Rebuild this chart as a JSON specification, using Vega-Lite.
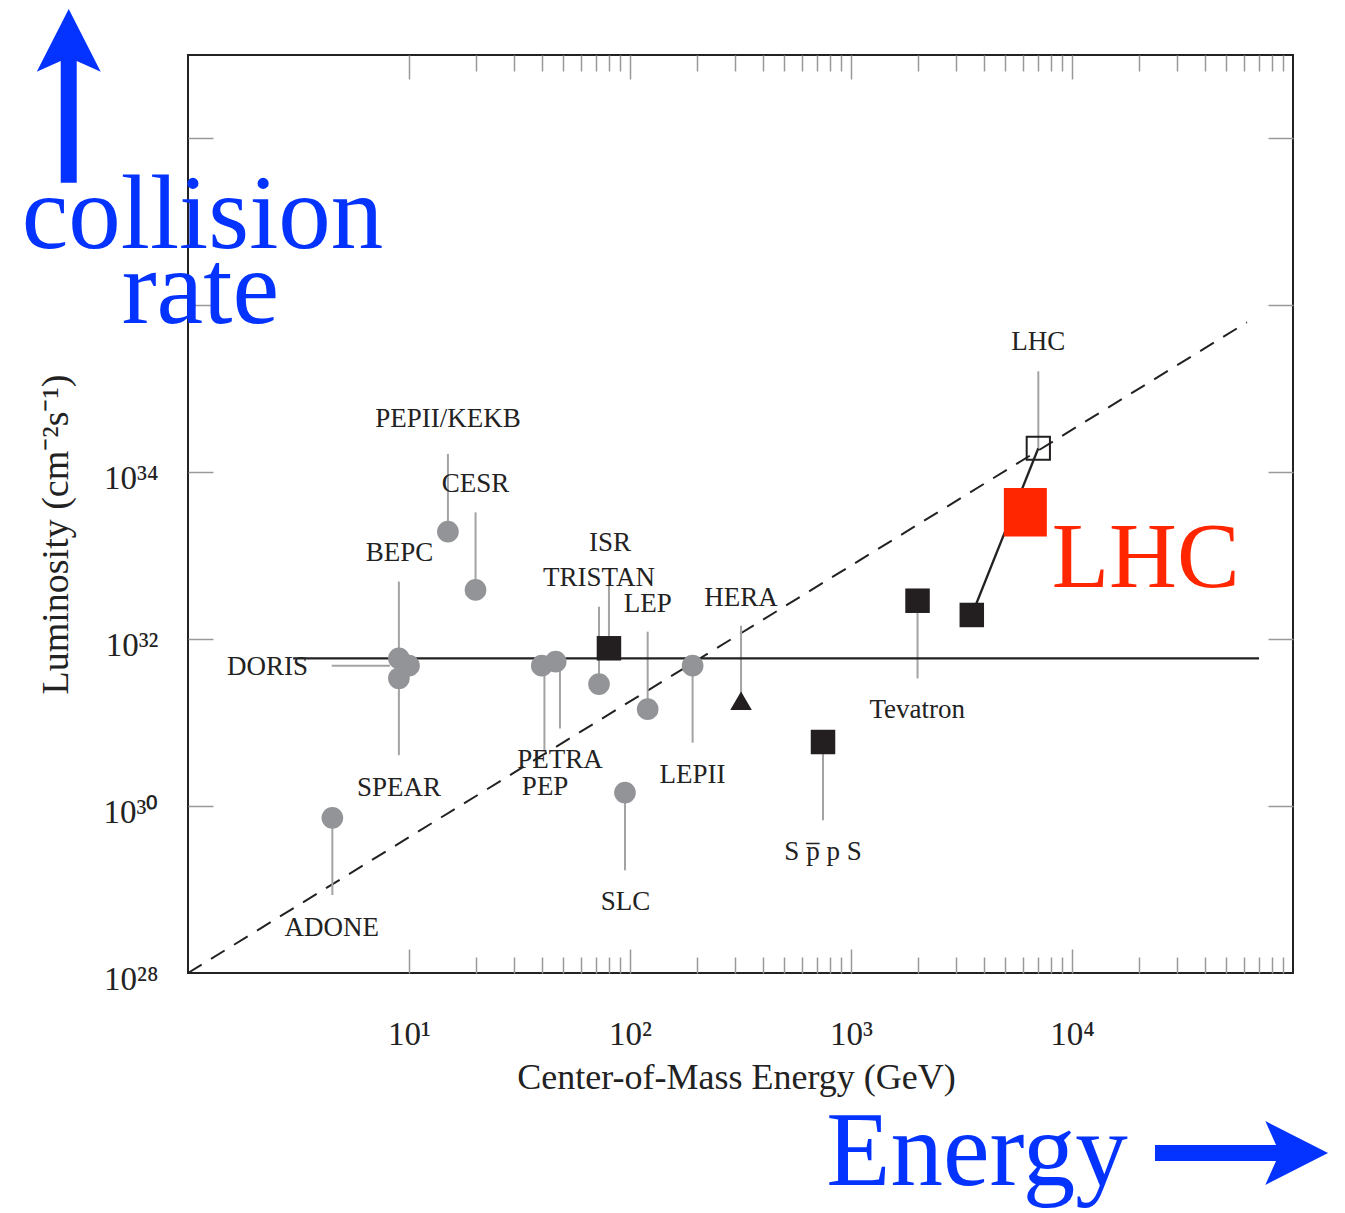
{
  "$schema": "https://vega.github.io/schema/vega-lite/v6.json",
  "width": 1105,
  "height": 918,
  "autosize": "none",
  "padding": {"left": 188, "top": 55, "right": 52, "bottom": 240},
  "background": "white",
  "config": {"view": {"stroke": "#222222", "strokeWidth": 2}, "font": "Liberation Serif"},
  "datasets": {
    "lines": [
      {"kind": "dash", "E": 1, "E2": 61900, "L": 1e28, "L2": 6.27e35},
      {"kind": "solid", "E": 2.99, "E2": 70200, "L": 5.9e31, "L2": 5.9e31},
      {"kind": "solid", "E": 3520, "E2": 7040, "L": 1.95e32, "L2": 1.94e34}
    ],
    "stems": [
      {"name": "ADONE", "E": 4.5, "E2": 4.5, "L": 7.24e29, "L2": 8.61e28},
      {"name": "BEPC", "E": 9.0, "E2": 9.0, "L": 4.9e32, "L2": 5.9e31},
      {"name": "SPEAR", "E": 9.0, "E2": 9.0, "L": 3.4e31, "L2": 4.07e30},
      {"name": "DORIS", "E": 4.47, "E2": 8.2, "L": 4.82e31, "L2": 4.82e31},
      {"name": "PEPII/KEKB", "E": 15.0, "E2": 15.0, "L": 1.66e34, "L2": 1.94e33},
      {"name": "CESR", "E": 20.0, "E2": 20.0, "L": 3.31e33, "L2": 3.89e32},
      {"name": "PETRA", "E": 41.0, "E2": 41.0, "L": 4.82e31, "L2": 4.68e30},
      {"name": "PEP", "E": 48.2, "E2": 48.2, "L": 5.38e31, "L2": 8.51e30},
      {"name": "TRISTAN", "E": 72.4, "E2": 72.4, "L": 2.45e32, "L2": 2.9e31},
      {"name": "ISR", "E": 80.3, "E2": 80.3, "L": 4.47e32, "L2": 7.78e31},
      {"name": "LEP", "E": 120.2, "E2": 120.2, "L": 1.23e32, "L2": 1.45e31},
      {"name": "LEPII", "E": 192, "E2": 192, "L": 4.82e31, "L2": 5.75e30},
      {"name": "HERA", "E": 318, "E2": 318, "L": 1.45e32, "L2": 1.83e31},
      {"name": "SLC", "E": 94.9, "E2": 94.9, "L": 1.45e30, "L2": 1.7e29},
      {"name": "SppS", "E": 747, "E2": 747, "L": 5.86e30, "L2": 6.76e29},
      {"name": "Tevatron", "E": 2000, "E2": 2000, "L": 2.89e32, "L2": 3.39e31},
      {"name": "LHC", "E": 7040, "E2": 7040, "L": 1.62e35, "L2": 1.94e34}
    ],
    "points": [
      {"name": "ADONE", "kind": "circle", "E": 4.5, "L": 7.24e29},
      {"name": "SPEAR", "kind": "circle", "E": 9.0, "L": 3.4e31},
      {"name": "BEPC", "kind": "circle", "E": 9.0, "L": 5.9e31},
      {"name": "DORIS", "kind": "circle", "E": 10.0, "L": 4.82e31},
      {"name": "PEPII/KEKB", "kind": "circle", "E": 15.0, "L": 1.94e33},
      {"name": "CESR", "kind": "circle", "E": 20.0, "L": 3.89e32},
      {"name": "PETRA", "kind": "circle", "E": 39.9, "L": 4.82e31},
      {"name": "PEP", "kind": "circle", "E": 46.1, "L": 5.38e31},
      {"name": "TRISTAN", "kind": "circle", "E": 72.4, "L": 2.9e31},
      {"name": "SLC", "kind": "circle", "E": 94.9, "L": 1.45e30},
      {"name": "LEP", "kind": "circle", "E": 120.2, "L": 1.45e31},
      {"name": "LEPII", "kind": "circle", "E": 192, "L": 4.82e31},
      {"name": "ISR", "kind": "square", "E": 80.3, "L": 7.78e31},
      {"name": "SppS", "kind": "square", "E": 747, "L": 5.86e30},
      {"name": "Tevatron", "kind": "square", "E": 2000, "L": 2.89e32},
      {"name": "Tevatron", "kind": "square", "E": 3520, "L": 1.95e32},
      {"name": "LHC", "kind": "open", "E": 7040, "L": 1.94e34},
      {"name": "HERA", "kind": "tri", "E": 318, "L": 1.83e31},
      {"name": "LHC", "kind": "red", "E": 6150, "L": 3.32e33}
    ],
    "labels": [
      {"t": "ADONE", "E": 4.47, "L": 2.77e28},
      {"t": "SPEAR", "E": 9.01, "L": 1.32e30},
      {"t": "DORIS", "E": 2.29, "L": 3.72e31},
      {"t": "BEPC", "E": 9.06, "L": 8.65e32},
      {"t": "PEPII/KEKB", "E": 15.0, "L": 3.49e34},
      {"t": "CESR", "E": 20.0, "L": 5.81e33},
      {"t": "ISR", "E": 81.2, "L": 1.14e33},
      {"t": "TRISTAN", "E": 72.4, "L": 4.35e32},
      {"t": "LEP", "E": 120.2, "L": 2.12e32},
      {"t": "HERA", "E": 318, "L": 2.5e32},
      {"t": "PETRA", "E": 48.2, "L": 2.86e30},
      {"t": "PEP", "E": 41.3, "L": 1.36e30},
      {"t": "LEPII", "E": 191.8, "L": 1.89e30},
      {"t": "SLC", "E": 95.4, "L": 5.69e28},
      {"t": "S p̅ p S", "E": 747, "L": 2.26e29},
      {"t": "Tevatron", "E": 1995, "L": 1.14e31},
      {"t": "LHC", "E": 7040, "L": 2.92e35}
    ],
    "notes": [
      {"t": "collision", "E": 1.163, "L": 4.83e36},
      {"t": "rate", "E": 1.137, "L": 6.21e35},
      {"t": "Energy", "E": 3717, "L": 2.88e25}
    ],
    "rednote": [
      {"t": "LHC", "E": 8090, "L": 4.26e32}
    ],
    "shafts": [
      {"E": 0.2886, "E2": 0.2886, "L": 2.95e37, "L2": 1e39},
      {"E": 23740, "E2": 92000, "L": 6.97e25, "L2": 6.97e25}
    ],
    "heads": [
      {"E": 0.2886, "L": 1.5e39, "shape": "M0,-0.98L1,0.98L0.25,0.645L-0.25,0.645L-1,0.98Z"},
      {"E": 103900, "L": 6.97e25, "shape": "M0.98,0L-0.98,1L-0.645,0.25L-0.645,-0.25L-0.98,-1Z"}
    ]
  },
  "resolve": {"axis": {"x": "independent", "y": "independent"}},
  "layer": [
    {
      "data": {"name": "lines"},
      "transform": [{"filter": "datum.kind == 'dash'"}],
      "mark": {"type": "rule", "color": "#222222", "strokeWidth": 2, "strokeDash": [16, 11]},
      "encoding": {
        "x": {"field": "E", "type": "quantitative", "scale": {"type": "log", "domain": [1, 100000], "nice": false},
          "axis": {"orient": "bottom", "values": [10, 100, 1000, 10000], "ticks": false, "domain": false, "grid": false,
            "labelExpr": "'10' + substring('¹²³⁴', round(log(datum.value)/LN10)-1, round(log(datum.value)/LN10))",
            "labelFont": "Liberation Serif", "labelFontSize": 33, "labelColor": "#222222", "labelBaseline": "alphabetic", "labelPadding": 71,
            "title": "Center-of-Mass Energy (GeV)", "titleFont": "Liberation Serif", "titleFontSize": 36, "titleFontWeight": "normal", "titleColor": "#222222",
            "titleBaseline": "alphabetic", "titleX": 548, "titleY": 115}},
        "x2": {"field": "E2"},
        "y": {"field": "L", "type": "quantitative", "scale": {"type": "log", "domain": [1e28, 1e39], "nice": false},
          "axis": {"orient": "left", "values": [1e28, 1e30, 1e32, 1e34], "ticks": false, "domain": false, "grid": false,
            "labelExpr": "'10' + (round(log(datum.value)/LN10) == 28 ? '²⁸' : round(log(datum.value)/LN10) == 30 ? '³⁰' : round(log(datum.value)/LN10) == 32 ? '³²' : '³⁴')",
            "labelFont": "Liberation Serif", "labelFontSize": 33, "labelColor": "#222222", "labelBaseline": "alphabetic", "labelOffset": 16, "labelPadding": 30,
            "title": "Luminosity (cm⁻²s⁻¹)", "titleFont": "Liberation Serif", "titleFontSize": 38, "titleFontWeight": "normal", "titleColor": "#222222",
            "titleAngle": -90, "titleBaseline": "alphabetic", "titleX": -121, "titleY": 479}},
        "y2": {"field": "L2"}
      }
    },
    {
      "data": {"name": "stems"},
      "mark": {"type": "rule", "color": "#a3a3a3", "strokeWidth": 2},
      "encoding": {
        "x": {"field": "E", "type": "quantitative", "scale": {"type": "log", "domain": [1, 100000], "nice": false},
          "axis": {"orient": "bottom", "values": [10, 100, 1000, 10000], "labels": false, "domain": false, "grid": false, "tickSize": -24, "tickColor": "#999999", "tickWidth": 1.5, "title": null}},
        "x2": {"field": "E2"},
        "y": {"field": "L", "type": "quantitative", "scale": {"type": "log", "domain": [1e28, 1e39], "nice": false},
          "axis": {"orient": "left", "values": [1e30, 1e32, 1e34, 1e36, 1e38], "labels": false, "domain": false, "grid": false, "tickSize": -25, "tickColor": "#999999", "tickWidth": 1.5, "title": null}},
        "y2": {"field": "L2"}
      }
    },
    {
      "data": {"name": "lines"},
      "transform": [{"filter": "datum.kind == 'solid'"}],
      "mark": {"type": "rule", "color": "#222222", "strokeWidth": 2.3},
      "encoding": {
        "x": {"field": "E", "type": "quantitative", "scale": {"type": "log", "domain": [1, 100000], "nice": false},
          "axis": {"orient": "bottom", "values": [20, 30, 40, 50, 60, 70, 80, 90, 200, 300, 400, 500, 600, 700, 800, 900, 2000, 3000, 4000, 5000, 6000, 7000, 8000, 9000, 20000, 30000, 40000, 50000, 60000, 70000, 80000, 90000], "labels": false, "domain": false, "grid": false, "tickSize": -16, "tickColor": "#999999", "tickWidth": 1.5, "title": null}},
        "x2": {"field": "E2"},
        "y": {"field": "L", "type": "quantitative", "scale": {"type": "log", "domain": [1e28, 1e39], "nice": false},
          "axis": {"orient": "right", "values": [1e30, 1e32, 1e34, 1e36, 1e38], "labels": false, "domain": false, "grid": false, "tickSize": -25, "tickColor": "#999999", "tickWidth": 1.5, "title": null}},
        "y2": {"field": "L2"}
      }
    },
    {
      "data": {"name": "points"},
      "transform": [{"filter": "datum.kind == 'circle'"}],
      "mark": {"type": "point", "shape": "circle", "filled": true, "opacity": 1, "color": "#929497", "size": 470},
      "encoding": {
        "x": {"field": "E", "type": "quantitative", "scale": {"type": "log", "domain": [1, 100000], "nice": false},
          "axis": {"orient": "top", "values": [10, 100, 1000, 10000], "labels": false, "domain": false, "grid": false, "tickSize": -24, "tickColor": "#999999", "tickWidth": 1.5, "title": null}},
        "y": {"field": "L", "type": "quantitative", "scale": {"type": "log", "domain": [1e28, 1e39], "nice": false}, "axis": null}
      }
    },
    {
      "data": {"name": "points"},
      "transform": [{"filter": "datum.kind == 'square'"}],
      "mark": {"type": "point", "shape": "square", "filled": true, "opacity": 1, "color": "#231f20", "size": 600},
      "encoding": {
        "x": {"field": "E", "type": "quantitative", "scale": {"type": "log", "domain": [1, 100000], "nice": false},
          "axis": {"orient": "top", "values": [20, 30, 40, 50, 60, 70, 80, 90, 200, 300, 400, 500, 600, 700, 800, 900, 2000, 3000, 4000, 5000, 6000, 7000, 8000, 9000, 20000, 30000, 40000, 50000, 60000, 70000, 80000, 90000], "labels": false, "domain": false, "grid": false, "tickSize": -16, "tickColor": "#999999", "tickWidth": 1.5, "title": null}},
        "y": {"field": "L", "type": "quantitative", "scale": {"type": "log", "domain": [1e28, 1e39], "nice": false}, "axis": null}
      }
    },
    {
      "data": {"name": "points"},
      "transform": [{"filter": "datum.kind == 'open'"}],
      "mark": {"type": "point", "shape": "square", "filled": false, "opacity": 1, "color": "#231f20", "strokeWidth": 2, "size": 540},
      "encoding": {
        "x": {"field": "E", "type": "quantitative", "scale": {"type": "log", "domain": [1, 100000], "nice": false}, "axis": null},
        "y": {"field": "L", "type": "quantitative", "scale": {"type": "log", "domain": [1e28, 1e39], "nice": false}, "axis": null}
      }
    },
    {
      "data": {"name": "points"},
      "transform": [{"filter": "datum.kind == 'tri'"}],
      "mark": {"type": "point", "shape": "M0,-0.92L1.08,0.92L-1.08,0.92Z", "filled": true, "opacity": 1, "color": "#231f20", "size": 400},
      "encoding": {
        "x": {"field": "E", "type": "quantitative", "scale": {"type": "log", "domain": [1, 100000], "nice": false}, "axis": null},
        "y": {"field": "L", "type": "quantitative", "scale": {"type": "log", "domain": [1e28, 1e39], "nice": false}, "axis": null}
      }
    },
    {
      "data": {"name": "points"},
      "transform": [{"filter": "datum.kind == 'red'"}],
      "mark": {"type": "point", "shape": "M-0.89,-1L0.89,-1L0.89,1L-0.89,1Z", "filled": true, "opacity": 1, "color": "#ff2600", "size": 2333},
      "encoding": {
        "x": {"field": "E", "type": "quantitative", "scale": {"type": "log", "domain": [1, 100000], "nice": false}, "axis": null},
        "y": {"field": "L", "type": "quantitative", "scale": {"type": "log", "domain": [1e28, 1e39], "nice": false}, "axis": null}
      }
    },
    {
      "data": {"name": "labels"},
      "mark": {"type": "text", "font": "Liberation Serif", "fontSize": 27, "color": "#222222", "align": "center", "baseline": "alphabetic"},
      "encoding": {
        "x": {"field": "E", "type": "quantitative", "scale": {"type": "log", "domain": [1, 100000], "nice": false}, "axis": null},
        "y": {"field": "L", "type": "quantitative", "scale": {"type": "log", "domain": [1e28, 1e39], "nice": false}, "axis": null},
        "text": {"field": "t"}
      }
    },
    {
      "data": {"name": "notes"},
      "mark": {"type": "text", "font": "Liberation Serif", "fontSize": 105, "color": "#0433ff", "align": "center", "baseline": "alphabetic"},
      "encoding": {
        "x": {"field": "E", "type": "quantitative", "scale": {"type": "log", "domain": [1, 100000], "nice": false}, "axis": null},
        "y": {"field": "L", "type": "quantitative", "scale": {"type": "log", "domain": [1e28, 1e39], "nice": false}, "axis": null},
        "text": {"field": "t"}
      }
    },
    {
      "data": {"name": "rednote"},
      "mark": {"type": "text", "font": "Liberation Serif", "fontSize": 94, "color": "#ff2600", "align": "left", "baseline": "alphabetic"},
      "encoding": {
        "x": {"field": "E", "type": "quantitative", "scale": {"type": "log", "domain": [1, 100000], "nice": false}, "axis": null},
        "y": {"field": "L", "type": "quantitative", "scale": {"type": "log", "domain": [1e28, 1e39], "nice": false}, "axis": null},
        "text": {"field": "t"}
      }
    },
    {
      "data": {"name": "shafts"},
      "mark": {"type": "rule", "color": "#0433ff", "strokeWidth": 16, "strokeCap": "butt"},
      "encoding": {
        "x": {"field": "E", "type": "quantitative", "scale": {"type": "log", "domain": [1, 100000], "nice": false}, "axis": null},
        "x2": {"field": "E2"},
        "y": {"field": "L", "type": "quantitative", "scale": {"type": "log", "domain": [1e28, 1e39], "nice": false}, "axis": null},
        "y2": {"field": "L2"}
      }
    },
    {
      "data": {"name": "heads"},
      "mark": {"type": "point", "filled": true, "opacity": 1, "color": "#0433ff", "size": 4096},
      "encoding": {
        "x": {"field": "E", "type": "quantitative", "scale": {"type": "log", "domain": [1, 100000], "nice": false}, "axis": null},
        "y": {"field": "L", "type": "quantitative", "scale": {"type": "log", "domain": [1e28, 1e39], "nice": false}, "axis": null},
        "shape": {"field": "shape", "type": "nominal", "scale": null}
      }
    }
  ]
}
